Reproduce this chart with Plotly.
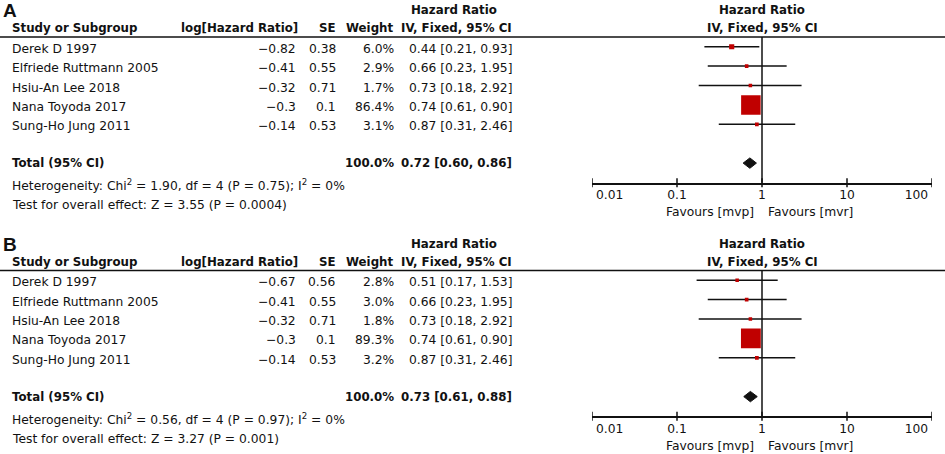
import plotly.graph_objects as go

W, H = 945, 454

studies = ["Derek D 1997", "Elfriede Ruttmann 2005", "Hsiu-An Lee 2018",
           "Nana Toyoda 2017", "Sung-Ho Jung 2011"]

# panel A
loghr_a = [-0.82, -0.41, -0.32, -0.3, -0.14]
se_a = [0.38, 0.55, 0.71, 0.1, 0.53]
weight_a = [6.0, 2.9, 1.7, 86.4, 3.1]
hr_a = [0.44, 0.66, 0.73, 0.74, 0.87]
lo_a = [0.21, 0.23, 0.18, 0.61, 0.31]
hi_a = [0.93, 1.95, 2.92, 0.90, 2.46]
total_a = [0.72, 0.60, 0.86]
het_a = "Heterogeneity: Chi<sup>2</sup> = 1.90, df = 4 (P = 0.75); I<sup>2</sup> = 0%"
test_a = "Test for overall effect: Z = 3.55 (P = 0.0004)"

# panel B
loghr_b = [-0.67, -0.41, -0.32, -0.3, -0.14]
se_b = [0.56, 0.55, 0.71, 0.1, 0.53]
weight_b = [2.8, 3.0, 1.8, 89.3, 3.2]
hr_b = [0.51, 0.66, 0.73, 0.74, 0.87]
lo_b = [0.17, 0.23, 0.18, 0.61, 0.31]
hi_b = [1.53, 1.95, 2.92, 0.90, 2.46]
total_b = [0.73, 0.61, 0.88]
het_b = "Heterogeneity: Chi<sup>2</sup> = 0.56, df = 4 (P = 0.97); I<sup>2</sup> = 0%"
test_b = "Test for overall effect: Z = 3.27 (P = 0.001)"

tick_vals = [0.01, 0.1, 1, 10, 100]
# end labels sit inside the axis, as in the original
tick_text = ["\u00a0" * 9 + "0.01", "0.1", "1", "10", "100" + "\u00a0" * 8]

FONT = "DejaVu Sans"
FS = 12.3
FSB = 11.8
INK = "#111111"
RED = "#C00000"

# row geometry (pixels, panel A); panel B is shifted down
ROW0, STEP = 46.7, 19.4
TOP, AXIS = 37.0, 182.7
TOTAL_ROW = 6

fig = go.Figure()
ann = []
shapes = []


def minus(v):
    return str(v).replace("-", "\u2212")


def txt(x, y, s, anchor="left", bold=False, size=None, fam=FONT):
    if size is None:
        size = FSB if bold else FS
    if bold:
        s = "<b>" + s + "</b>"
    ann.append(dict(x=x / W, y=1 - y / H, xref="paper", yref="paper", text=s,
                    showarrow=False, xanchor=anchor, yanchor="middle",
                    font=dict(family=fam, size=size, color=INK)))


def panel(k, label, off, loghr, se, weight, hr, lo, hi, total, het, test):
    xa = "x" if k == 1 else "x%d" % k
    ya = "y" if k == 1 else "y%d" % k

    txt(1, 11 + off, label, bold=True, size=19, fam="Liberation Sans")
    # headers
    txt(454, 10 + off, "Hazard Ratio", "center", True)
    txt(762, 10 + off, "Hazard Ratio", "center", True)
    txt(10, 28 + off, "Study or Subgroup", "left", True)
    txt(300, 28 + off, "log[Hazard Ratio]", "right", True)
    txt(338, 28 + off, "SE", "right", True)
    txt(395, 28 + off, "Weight", "right", True)
    txt(514, 28 + off, "IV, Fixed, 95% CI", "right", True)
    txt(762, 28 + off, "IV, Fixed, 95% CI", "center", True)

    for i, name in enumerate(studies):
        y = ROW0 + STEP * i + 2 + off
        txt(10, y, name)
        txt(298, y, minus(loghr[i]), "right")
        txt(338, y, str(se[i]), "right")
        txt(396, y, f"{weight[i]:.1f}%", "right")
        txt(514, y, f"{hr[i]:.2f} [{lo[i]:.2f}, {hi[i]:.2f}]", "right")

    y = ROW0 + STEP * TOTAL_ROW + off
    txt(10, y, "Total (95% CI)", "left", True)
    txt(396, y, "100.0%", "right", True)
    txt(514, y, f"{total[0]:.2f} [{total[1]:.2f}, {total[2]:.2f}]", "right", True)
    txt(10, 185 + off, het)
    txt(10, 205 + off, test)
    txt(756, 212 + off, "Favours [mvp]", "right")
    txt(766, 212 + off, "Favours [mvr]", "left")

    # CI lines
    cx, cy = [], []
    for i in range(len(studies)):
        cx += [lo[i], hi[i], None]
        cy += [i, i, None]
    fig.add_trace(go.Scatter(x=cx, y=cy, mode="lines", xaxis=xa, yaxis=ya,
                             line=dict(color=INK, width=1.5), hoverinfo="skip"))
    # weighted squares
    sizes = [max(3.5, 2.1 * w ** 0.5) for w in weight]
    fig.add_trace(go.Scatter(x=hr, y=list(range(len(studies))), mode="markers",
                             xaxis=xa, yaxis=ya,
                             marker=dict(symbol="square", color=RED, size=sizes,
                                         opacity=1, line=dict(width=0))))
    # pooled diamond
    h = 5.2 / STEP
    fig.add_trace(go.Scatter(x=[total[1], total[0], total[2], total[0], total[1]],
                             y=[TOTAL_ROW, TOTAL_ROW - h, TOTAL_ROW, TOTAL_ROW + h, TOTAL_ROW],
                             mode="lines", fill="toself", fillcolor=INK,
                             line=dict(color=INK, width=1), xaxis=xa, yaxis=ya))

    # header rule and line of no effect
    shapes.append(dict(type="line", xref="paper", yref="paper", x0=0, x1=1,
                       y0=1 - (TOP + off) / H, y1=1 - (TOP + off) / H,
                       line=dict(color=INK, width=1.6)))
    shapes.append(dict(type="line", xref=xa, yref=ya + " domain", x0=1, x1=1,
                       y0=0, y1=1, line=dict(color=INK, width=1.5)))
    # ticks crossing the axis line
    for v in tick_vals:
        shapes.append(dict(type="line", xref=xa, yref="paper", x0=v, x1=v,
                           y0=1 - (AXIS + 4.5 + off) / H, y1=1 - (AXIS - 4.5 + off) / H,
                           line=dict(color=INK, width=1.5)))

    rows_top = (TOP - ROW0) / STEP
    rows_bot = (AXIS - ROW0) / STEP
    axis_x = dict(type="log", range=[-2, 2], domain=[592 / W, 932 / W],
                  showgrid=False, zeroline=False, showline=True, linecolor=INK,
                  linewidth=1.5, ticks="", tickvals=tick_vals, ticktext=tick_text,
                  automargin=False, ticklabeloverflow="allow",
                  tickfont=dict(family=FONT, size=FS, color=INK), fixedrange=True)
    axis_y = dict(range=[rows_bot, rows_top], visible=False, fixedrange=True,
                  automargin=False,
                  domain=[1 - (AXIS + off) / H, 1 - (TOP + off) / H])
    if k == 1:
        fig.update_layout(xaxis=dict(axis_x, anchor="y"), yaxis=dict(axis_y, anchor="x"))
    else:
        fig.update_layout(**{"xaxis%d" % k: dict(axis_x, anchor=ya),
                             "yaxis%d" % k: dict(axis_y, anchor=xa)})


panel(1, "A", 0, loghr_a, se_a, weight_a, hr_a, lo_a, hi_a, total_a, het_a, test_a)
panel(2, "B", 233.5, loghr_b, se_b, weight_b, hr_b, lo_b, hi_b, total_b, het_b, test_b)

fig.update_layout(width=W, height=H, margin=dict(l=0, r=0, t=0, b=0, autoexpand=False),
                  paper_bgcolor="white", plot_bgcolor="white", showlegend=False,
                  annotations=ann, shapes=shapes, hovermode=False,
                  font=dict(family=FONT, size=FS, color=INK))

# page body has a default 8px margin; drop it so the figure fills the window
fig.write_html("out.html", config={"displayModeBar": False},
               post_script="document.body.style.margin='0px';")
